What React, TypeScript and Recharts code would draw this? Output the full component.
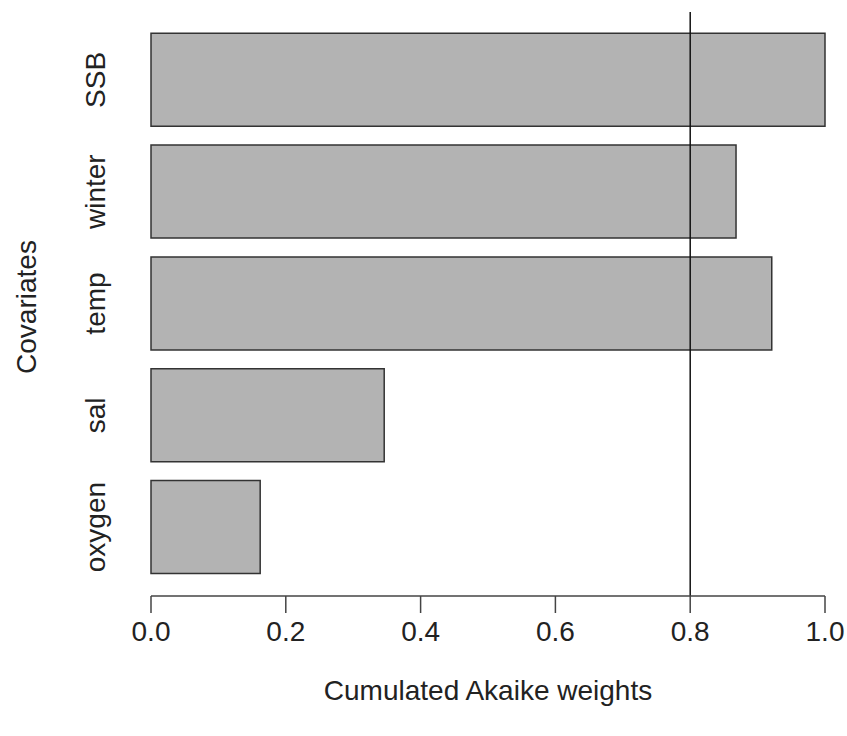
import { Bar, BarChart, Label, ReferenceLine, XAxis, YAxis } from "recharts";

const covariates = ["SSB", "winter", "temp", "sal", "oxygen"];
const weights = [1.0, 0.868, 0.921, 0.346, 0.162];
const xTicks = [0, 0.2, 0.4, 0.6, 0.8, 1.0];
const threshold = 0.8;

const chartData = covariates.map((name, i) => ({ name, weight: weights[i] }));

const FONT = "'Liberation Sans', Arial, Helvetica, sans-serif";
const FONT_SIZE = 28;

function CovariateTick(props: any) {
  const { x, y, payload } = props;
  return (
    <text
      x={x}
      y={y}
      transform={`rotate(-90 ${x} ${y})`}
      textAnchor="middle"
      fontFamily={FONT}
      fontSize={FONT_SIZE}
      fill="#222"
    >
      {payload.value}
    </text>
  );
}

function YTitle(props: any) {
  const { viewBox } = props;
  const x = viewBox.x + 36;
  const y = viewBox.y + viewBox.height / 2 + 3;
  return (
    <text
      x={x}
      y={y}
      transform={`rotate(-90 ${x} ${y})`}
      textAnchor="middle"
      fontFamily={FONT}
      fontSize={FONT_SIZE}
      fill="#222"
    >
      Covariates
    </text>
  );
}

export default function App() {
  return (
    <div style={{ position: "absolute", left: 0, top: 0, background: "#fff" }}>
      <BarChart
        width={847}
        height={736}
        data={chartData}
        layout="vertical"
        margin={{ top: 12, right: 22, left: 0, bottom: 0 }}
        barCategoryGap="8.33%"
      >
        <XAxis
          type="number"
          domain={[0, 1]}
          ticks={xTicks}
          height={140}
          tickFormatter={(v: number) => v.toFixed(1)}
          tick={{ fill: "#222", fontSize: FONT_SIZE, fontFamily: FONT }}
          tickSize={17}
          tickMargin={8}
          stroke="#444"
          strokeWidth={1.5}
          label={{
            value: "Cumulated Akaike weights",
            position: "insideBottom",
            offset: 36,
            fill: "#222",
            fontSize: FONT_SIZE,
            fontFamily: FONT,
          }}
        />
        <YAxis
          type="category"
          dataKey="name"
          width={151}
          axisLine={false}
          tickLine={false}
          tickSize={0}
          tickMargin={46}
          padding={{ top: 12, bottom: 13 }}
          tick={<CovariateTick />}
        >
          <Label content={<YTitle />} />
        </YAxis>
        <Bar
          dataKey="weight"
          fill="#b3b3b3"
          stroke="#333"
          strokeWidth={1.5}
          isAnimationActive={false}
        />
        <ReferenceLine x={threshold} stroke="#111" strokeWidth={1.5} />
      </BarChart>
    </div>
  );
}
